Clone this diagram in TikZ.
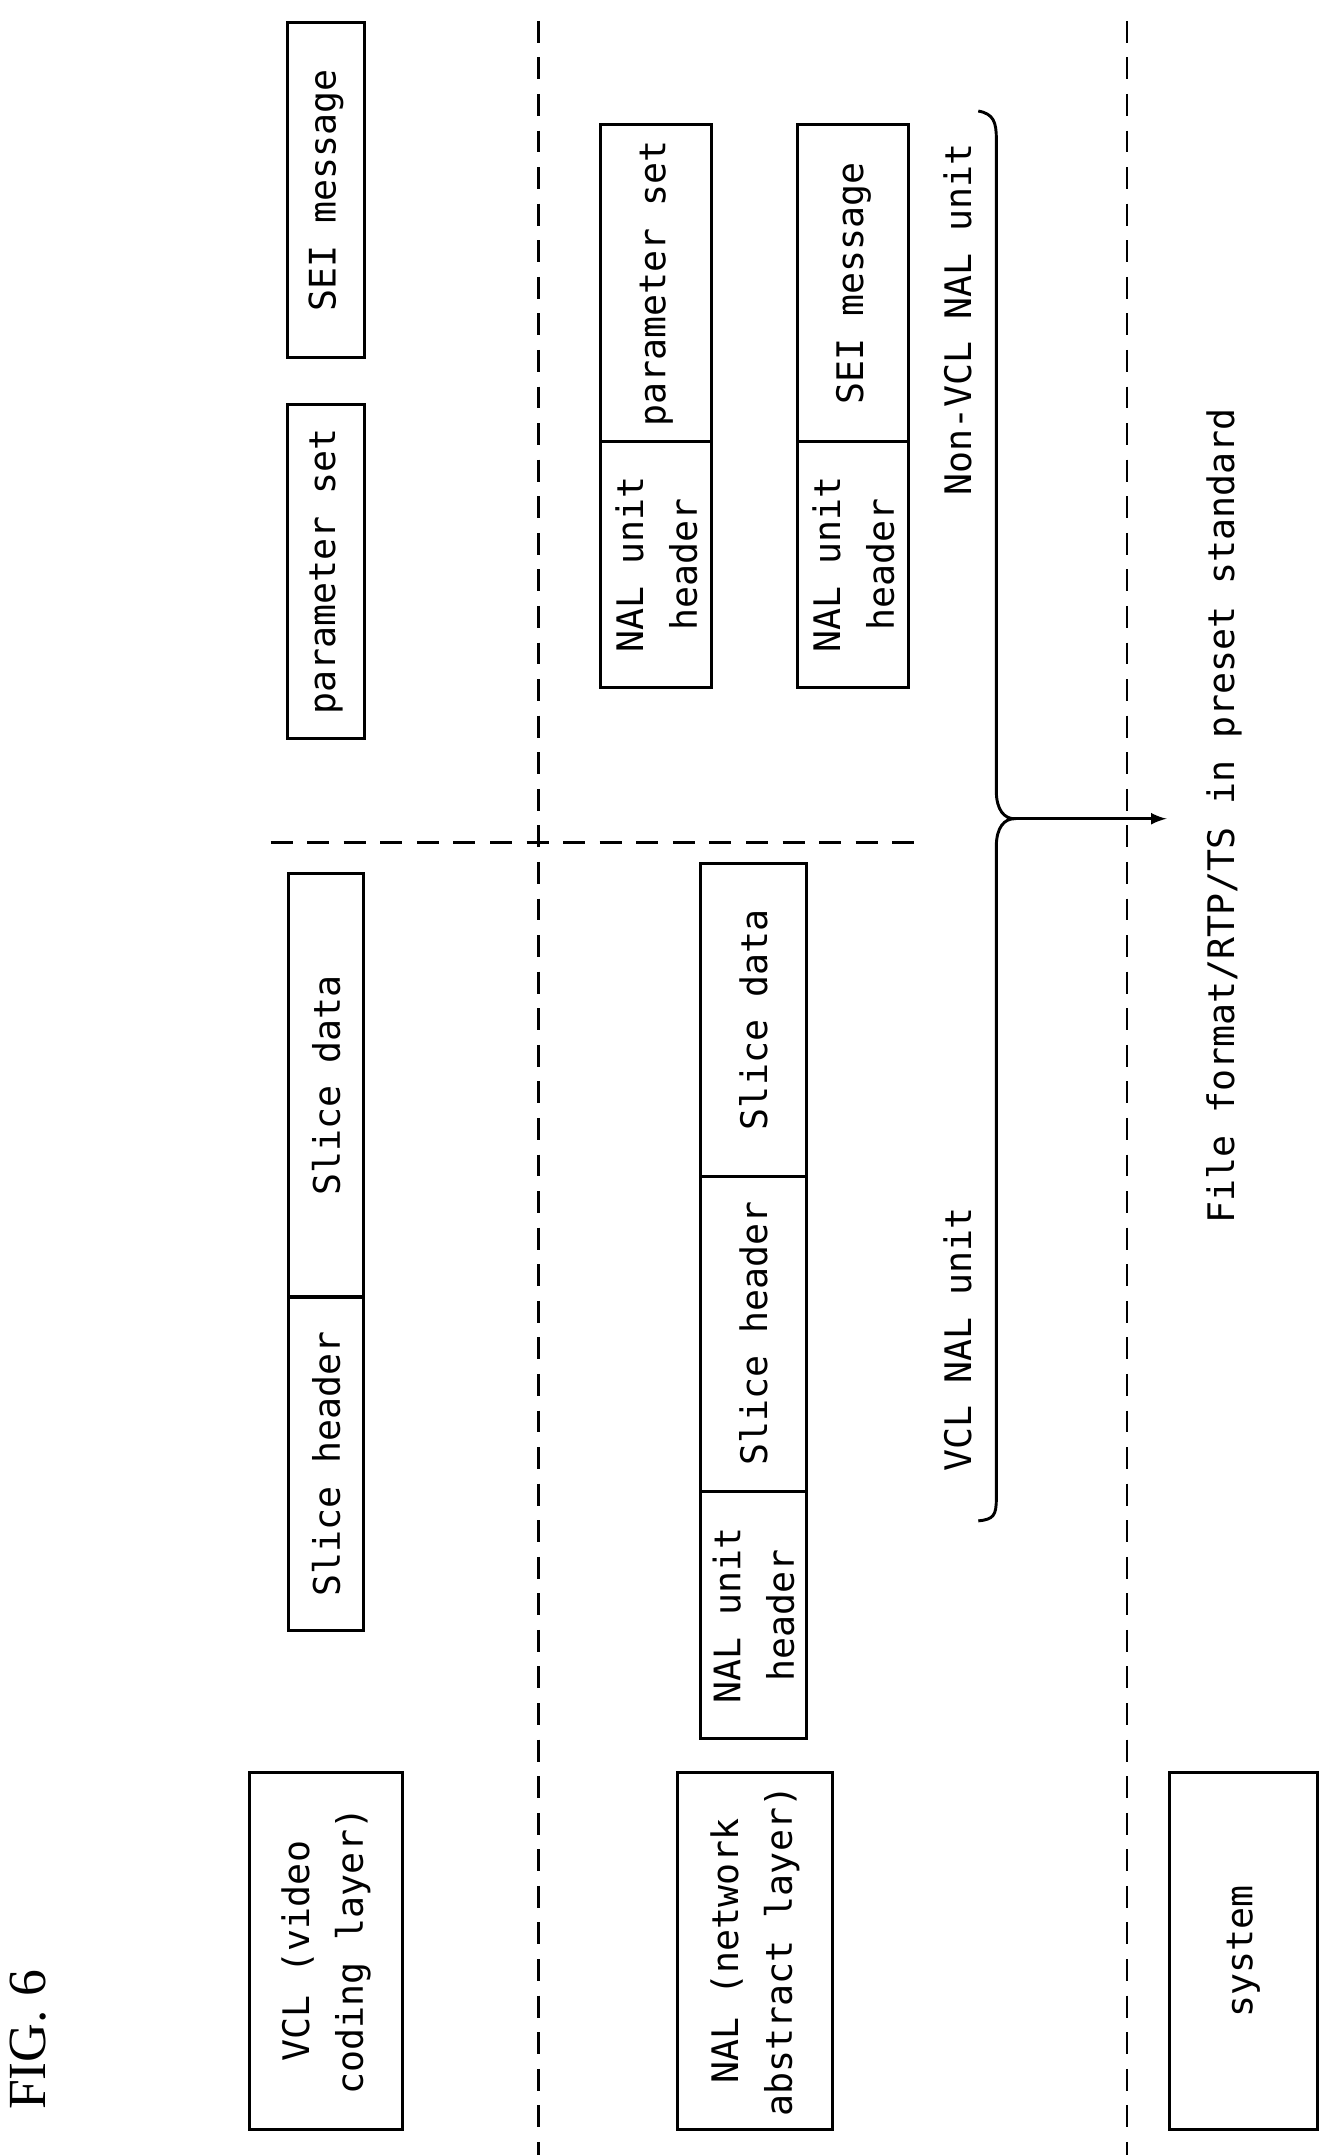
\documentclass[tikz,border=0pt]{standalone}
\usepackage{fontspec}
\setmainfont{DejaVu Sans Mono}
\newfontfamily\figfont{Liberation Serif}
\tikzset{
  blk/.style={rectangle,draw,line width=1.2pt,rotate=90,inner sep=0,align=center,
    font=\fontsize{15}{22}\selectfont},
  txt/.style={rotate=90,inner sep=0,align=center,font=\fontsize{15}{22}\selectfont},
  sep/.style={dashed,line width=1pt,dash pattern=on 9pt off 6pt}
}
\begin{document}
\begin{tikzpicture}[x=0.02cm,y=-0.02cm]
    \useasboundingbox (0,0) rectangle (960,1553);
    \draw[sep] (388,15) -- (388,1553);
    \draw[sep] (812,15) -- (812,1553);
    \draw[sep] (195,607) -- (665,607);

    \node[rotate=90,font=\figfont\fontsize{22}{24}\selectfont] (fig) at (20,1470) {FIG. 6};

    % layer boxes
    \node[blk,minimum width=5.14cm,minimum height=2.2cm] (vcl) at (235,1406) {VCL (video\\coding layer)};
    \node[blk,minimum width=5.14cm,minimum height=2.24cm] (nal) at (544,1406) {NAL (network\\abstract layer)};
    \node[blk,minimum width=5.14cm,minimum height=2.14cm] (sys) at (896,1406) {system};

    % VCL row
    \node[blk,minimum width=4.8cm,minimum height=1.08cm] (sh) at (235,1055) {Slice header};
    \node[blk,minimum width=6.1cm,minimum height=1.08cm] (sd) at (235,782) {Slice data};
    \node[blk,minimum width=4.82cm,minimum height=1.1cm] (ps) at (235,412) {parameter set};
    \node[blk,minimum width=4.82cm,minimum height=1.1cm] (sei) at (235,137) {SEI message};

    % VCL NAL unit
    \node[blk,minimum width=3.56cm,minimum height=1.54cm] (nh) at (543,1164) {NAL unit\\header};
    \node[blk,minimum width=4.54cm,minimum height=1.54cm] (nsh) at (543,961) {Slice header};
    \node[blk,minimum width=4.52cm,minimum height=1.54cm] (nsd) at (543,735) {Slice data};

    % Non-VCL NAL units
    \node[blk,minimum width=3.54cm,minimum height=1.6cm] (nh1) at (473,407) {NAL unit\\header};
    \node[blk,minimum width=4.56cm,minimum height=1.6cm] (nps) at (473,204) {parameter set};
    \node[blk,minimum width=3.54cm,minimum height=1.6cm] (nh2) at (615,407) {NAL unit\\header};
    \node[blk,minimum width=4.56cm,minimum height=1.6cm] (nsei) at (615,204) {SEI message};

    \node[txt] (nonvcl) at (690,230) {Non-VCL NAL unit};
    \node[txt] (vclnal) at (690,965) {VCL NAL unit};

    % brace
    \coordinate (tip) at (731,590);
    \draw[line width=1.2pt] (705,80) .. controls (716,82) and (718,88) .. (718,100)
      -- (718,570) .. controls (718,584) and (724,590) .. (tip)
      .. controls (724,590) and (718,596) .. (718,610)
      -- (718,1080) .. controls (718,1092) and (716,1095) .. (705,1096);
    \node[txt] (file) at (882,588) {File format/RTP/TS in preset standard};
    \draw[line width=1.2pt,-latex,shorten >=16pt] (tip) -- (file.north|-tip);
\end{tikzpicture}
\end{document}
